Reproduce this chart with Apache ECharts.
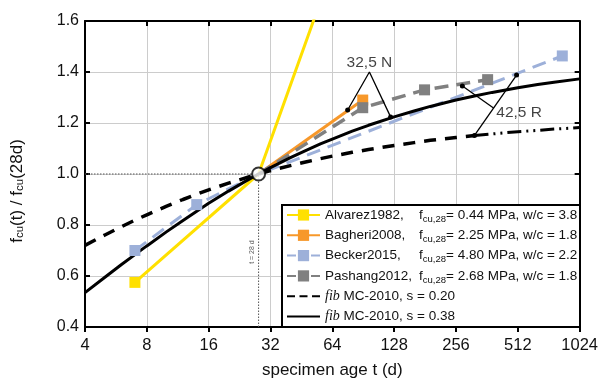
<!DOCTYPE html>
<html><head><meta charset="utf-8">
<script src="https://cdn.jsdelivr.net/npm/echarts@6/dist/echarts.min.js"></script>
<style>html,body{margin:0;padding:0;background:#fff}#c{width:601px;height:385px}</style>
</head><body><div id="c"></div>
<script>
// ---- data ----
const xTicks = [4, 8, 16, 32, 64, 128, 256, 512, 1024];
const alvarezT = [7, 28, 90];
const alvarezV = [0.575, 1.0, 2.14];
const bagheriT = [28, 90];
const bagheriV = [1.0, 1.29];
const beckerT = [7, 14, 28, 843];
const beckerV = [0.70, 0.88, 1.0, 1.463];
const pashangT = [28, 90, 180, 365];
const pashangV = [1.0, 1.26, 1.33, 1.37];
const fibT    = [4, 5, 6, 7, 8, 10, 12, 14, 16, 20, 24, 28, 32, 40, 48, 56, 64, 80, 96, 128, 160, 192, 256, 315, 384, 512, 640, 768, 1024];
const fib038V = [0.535, 0.595, 0.644, 0.684, 0.718, 0.774, 0.818, 0.854, 0.885, 0.933, 0.970, 1.000, 1.025, 1.064, 1.094, 1.118, 1.137, 1.168, 1.191, 1.224, 1.247, 1.265, 1.290, 1.306, 1.320, 1.338, 1.351, 1.360, 1.373];
const fib020V = [0.720, 0.761, 0.793, 0.819, 0.840, 0.874, 0.900, 0.921, 0.938, 0.964, 0.984, 1.000, 1.013, 1.033, 1.048, 1.060, 1.070, 1.085, 1.096, 1.112, 1.123, 1.132, 1.143, 1.151, 1.157, 1.166, 1.171, 1.176, 1.182];
const fib020Break = 315;
// annotation anchor points (data coordinates)
const ann32T = [76, 97, 123];
const ann32V = [1.251, 1.40, 1.224];
const ann42aT = [505, 315];
const ann42aV = [1.388, 1.151];
const ann42bT = [275, 390];
const ann42bV = [1.345, 1.259];
const refT = 28, refV = 1.0;

const names = ['Alvarez1982', 'Bagheri2008', 'Becker2015', 'Pashang2012', 'fib MC-2010, s = 0.20', 'fib MC-2010, s = 0.38'];
const legendRich = {
  'Alvarez1982': '{n|Alvarez1982,}{t|f}{s|cu,28}{t|= 0.44 MPa, w/c = 3.8}',
  'Bagheri2008': '{n|Bagheri2008,}{t|f}{s|cu,28}{t|= 2.25 MPa, w/c = 1.8}',
  'Becker2015': '{n|Becker2015,}{t|f}{s|cu,28}{t|= 4.80 MPa, w/c = 2.2}',
  'Pashang2012': '{n|Pashang2012,}{t|f}{s|cu,28}{t|= 2.68 MPa, w/c = 1.8}',
  'fib MC-2010, s = 0.20': '{i|fib}{t| MC-2010, s = 0.20}',
  'fib MC-2010, s = 0.38': '{i|fib}{t| MC-2010, s = 0.38}'
};
const yTitle = 'f{s|cu}(t) / f{s|cu}(28d)';

const zip = (a, b) => a.map((v, i) => [v, b[i]]);
const hide28 = (arr) => arr.map(p => p[0] === refT ? { value: p, symbol: 'none' } : p);
const FONT = '"Liberation Sans", Arial, Helvetica, sans-serif';

const chart = echarts.init(document.getElementById('c'), null, { renderer: 'canvas' });

const xBase = { type: 'log', logBase: 2, min: 4, max: 1024, interval: 1, splitNumber: 8 };
const yBase = { type: 'value', min: 0.4, max: 1.6, interval: 0.2 };

const endDot = (arr) => arr.map(p => ({ value: p, symbol: 'circle', symbolSize: 5 }));

const legendTextStyle = {
  fontFamily: FONT, fontSize: 13.5, color: '#111', lineHeight: 18,
  rich: {
    n: { fontFamily: FONT, fontSize: 13.5, color: '#111', width: 94, lineHeight: 18 },
    t: { fontFamily: FONT, fontSize: 13.5, color: '#111', lineHeight: 18 },
    s: { fontFamily: FONT, fontSize: 9.5, color: '#111', verticalAlign: 'bottom', lineHeight: 9 },
    i: { fontFamily: '"Liberation Serif", "Times New Roman", serif', fontStyle: 'italic', fontSize: 14, color: '#111', lineHeight: 18 }
  }
};
const legendItemExtra = [
  {}, {},
  { lineStyle: { type: [9, 15] } },
  { lineStyle: { type: [9, 15] } },
  { lineStyle: { type: [8, 4.5] }, itemStyle: { color: 'rgba(0,0,0,0)', borderWidth: 0 } },
  { itemStyle: { color: 'rgba(0,0,0,0)', borderWidth: 0 } }
];
const legends = names.map((n, i) => ({
  data: [Object.assign({ name: n }, legendItemExtra[i])],
  orient: 'vertical', left: 286, top: 206 + 20.3 * i, padding: 0,
  itemWidth: 33, itemHeight: 14, selectedMode: false,
  formatter: k => legendRich[k],
  textStyle: legendTextStyle,
  z: 6
}));

const option = {
  animation: false,
  backgroundColor: '#fff',
  grid: { left: 85, right: 21, top: 21, bottom: 58 },
  xAxis: [
    Object.assign({}, xBase, {
      position: 'bottom',
      name: 'specimen age t (d)', nameLocation: 'middle', nameGap: 35,
      nameTextStyle: { fontFamily: FONT, fontSize: 17, color: '#111' },
      axisLine: { show: true, lineStyle: { color: '#000', width: 2 } },
      axisTick: { show: true, inside: false, length: 5, lineStyle: { color: '#000', width: 2 } },
      axisLabel: { fontFamily: FONT, fontSize: 16.5, color: '#111', margin: 10, formatter: v => String(Math.round(v)) },
      splitLine: { show: true, lineStyle: { color: '#cccccc', width: 1 } }
    }),
    Object.assign({}, xBase, {
      position: 'top',
      axisLine: { show: true, lineStyle: { color: '#000', width: 2 } },
      axisTick: { show: true, inside: true, length: 5, lineStyle: { color: '#000', width: 2 } },
      axisLabel: { show: false }, splitLine: { show: false }
    })
  ],
  yAxis: [
    Object.assign({}, yBase, {
      position: 'left',
      axisLine: { show: true, lineStyle: { color: '#000', width: 2 } },
      axisTick: { show: true, inside: true, length: 5, lineStyle: { color: '#000', width: 2 } },
      axisLabel: { fontFamily: FONT, fontSize: 16, color: '#111', margin: 6, formatter: v => v.toFixed(1) },
      splitLine: { show: true, lineStyle: { color: '#cccccc', width: 1 } }
    }),
    Object.assign({}, yBase, {
      position: 'right',
      axisLine: { show: true, lineStyle: { color: '#000', width: 2 } },
      axisTick: { show: true, inside: true, length: 5, lineStyle: { color: '#000', width: 2 } },
      axisLabel: { show: false }, splitLine: { show: false }
    })
  ],
  legend: legends,
  graphic: [
    {
      type: 'rect', z: 5,
      shape: { x: 282, y: 205, width: 298, height: 122 },
      style: { fill: '#fff', stroke: '#000', lineWidth: 2 }
    },
    {
      type: 'text', z: 5, x: 17, y: 191, rotation: Math.PI / 2,
      style: {
        text: yTitle, fill: '#111', fontFamily: FONT, fontSize: 17,
        align: 'center', verticalAlign: 'middle',
        rich: { s: { fontFamily: FONT, fontSize: 11.5, fill: '#111', verticalAlign: 'bottom', lineHeight: 10 } }
      }
    }
  ],
  series: [
    { name: 'ref-h', type: 'line', data: [[xTicks[0], refV], [refT, refV]], symbol: 'none', silent: true, z: 1,
      lineStyle: { color: '#555', width: 1, type: [1.5, 1.5] } },
    { name: 'ref-v', type: 'line', data: [[refT, 0.4], [refT, refV]], symbol: 'none', silent: true, z: 1,
      lineStyle: { color: '#555', width: 1, type: [1.5, 1.5] } },
    { name: names[0], type: 'line', data: hide28(zip(alvarezT, alvarezV)), symbol: 'rect', symbolSize: 11,
      color: '#FFE000', lineStyle: { color: '#FFE000', width: 3 }, itemStyle: { color: '#FFE000' } },
    { name: names[1], type: 'line', data: hide28(zip(bagheriT, bagheriV)), symbol: 'rect', symbolSize: 11,
      color: '#F7982A', lineStyle: { color: '#F7982A', width: 3 }, itemStyle: { color: '#F7982A' } },
    { name: names[2], type: 'line', data: hide28(zip(beckerT, beckerV)), symbol: 'rect', symbolSize: 11,
      color: '#9DB0D9', lineStyle: { color: '#9DB0D9', width: 3, type: [14, 8] }, itemStyle: { color: '#9DB0D9' } },
    { name: names[3], type: 'line', data: hide28(zip(pashangT, pashangV)), symbol: 'rect', symbolSize: 11,
      color: '#808080', lineStyle: { color: '#808080', width: 3.5, type: [14, 8] }, itemStyle: { color: '#808080' } },
    { name: names[4], type: 'line', data: zip(fibT, fib020V).filter(p => p[0] <= fib020Break), symbol: 'none',
      color: '#000', lineStyle: { color: '#000', width: 3.5, type: [12, 9] } },
    { name: 'fib020ext', type: 'line', data: zip(fibT, fib020V).filter(p => p[0] >= fib020Break), symbol: 'none',
      lineStyle: { color: '#000', width: 3, type: [14, 5, 2, 5, 2, 5] } },
    { name: names[5], type: 'line', data: zip(fibT, fib038V), symbol: 'none',
      color: '#000', lineStyle: { color: '#000', width: 3 } },
    // annotation leaders
    { name: 'a32', type: 'line', silent: true, z: 4,
      data: zip(ann32T, ann32V).map((p, i) => ({ value: p, symbol: i === 1 ? 'none' : 'circle', symbolSize: 5 })),
      lineStyle: { color: '#000', width: 1.3 }, itemStyle: { color: '#000' } },
    { name: 'a42a', type: 'line', silent: true, z: 4, data: endDot(zip(ann42aT, ann42aV)),
      lineStyle: { color: '#000', width: 1.3 }, itemStyle: { color: '#000' } },
    { name: 'a42b', type: 'line', silent: true, z: 4,
      data: zip(ann42bT, ann42bV).map((p, i) => ({ value: p, symbol: i === 0 ? 'circle' : 'none', symbolSize: 5 })),
      lineStyle: { color: '#000', width: 1.3 }, itemStyle: { color: '#000' } },
    // annotation texts
    { name: 'txt', type: 'scatter', silent: true, z: 4, symbolSize: 1, itemStyle: { color: 'rgba(0,0,0,0)' },
      data: [
        { value: [97, 1.437], label: { show: true, position: 'inside', formatter: '32,5 N', fontFamily: FONT, fontSize: 15.5, color: '#111' } },
        { value: [400, 1.239], label: { show: true, position: 'right', distance: 0, formatter: '42,5 R', fontFamily: FONT, fontSize: 15.5, color: '#111' } },
        { value: [26, 0.694], label: { show: true, position: 'inside', rotate: 90, formatter: 't = 28 d', fontFamily: FONT, fontSize: 7, color: '#333' } }
      ] },
    // 28-day reference circle
    { name: 'ref', type: 'scatter', silent: true, z: 10, data: [[refT, refV]], symbol: 'circle', symbolSize: 13,
      itemStyle: { color: '#fff', borderColor: '#000', borderWidth: 2 } }
  ]
};
chart.setOption(option);
</script>
</body></html>
